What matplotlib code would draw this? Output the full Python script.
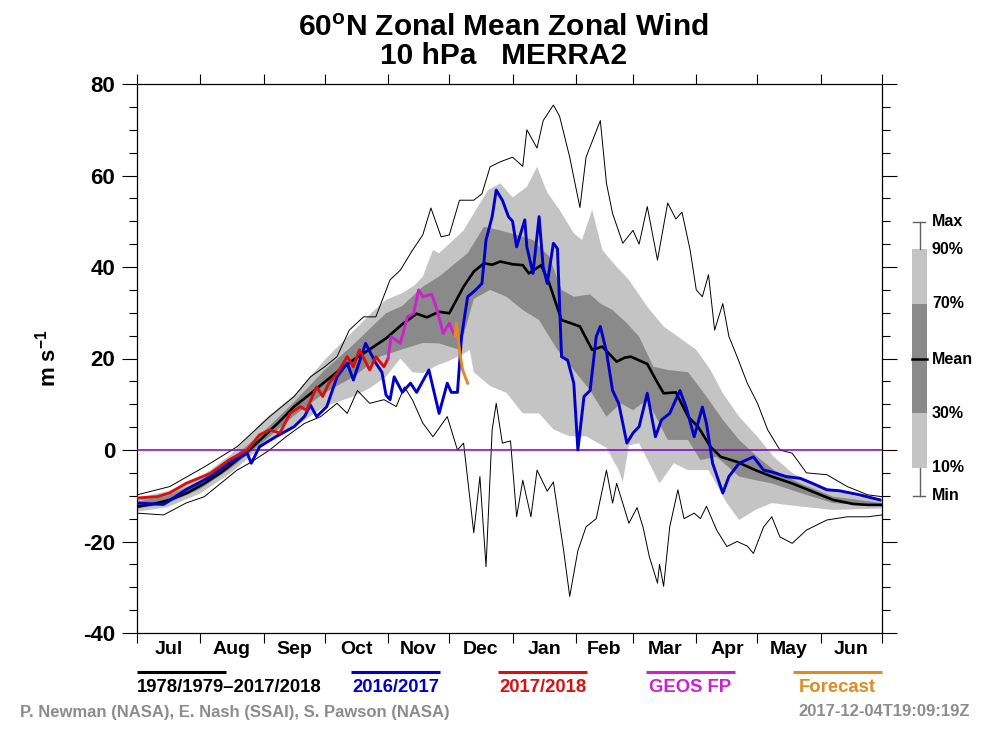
import numpy as np
import matplotlib
matplotlib.use("Agg")
import matplotlib.pyplot as plt
from matplotlib.patches import Rectangle

plt.rcParams['font.family'] = ['Liberation Sans', 'DejaVu Sans']
plt.rcParams['font.weight'] = 'bold'
plt.rcParams['axes.unicode_minus'] = False
plt.rcParams['mathtext.fontset'] = 'custom'
plt.rcParams['mathtext.bf'] = 'Liberation Sans:bold'
plt.rcParams['mathtext.rm'] = 'Liberation Sans:bold'
plt.rcParams['mathtext.default'] = 'bf'

# x axis = days since 1 Jul
month_names = ['Jul', 'Aug', 'Sep', 'Oct', 'Nov', 'Dec', 'Jan', 'Feb', 'Mar', 'Apr', 'May', 'Jun']
month_starts = [0, 31, 62, 92, 123, 153, 184, 215, 243, 274, 304, 335, 365]

# climatology 1978/1979-2017/2018
mean_day = [0, 8, 16, 25, 33, 41, 49, 55, 62, 70, 77, 85, 92, 99, 106, 114, 122, 130, 137, 142,
            148, 153, 160, 165, 170, 174, 178, 184, 189, 192, 198, 202, 208, 212, 217, 223, 228, 235, 239, 242,
            246, 250, 254, 258, 264, 270, 275, 281, 286, 294, 303, 311, 321, 331, 341, 351, 358, 365]
mean_val = [-12.4, -11.8, -10.9, -9.3, -7.3, -5.0, -2.2, 0.0, 2.9, 6.3, 9.5, 12.3, 14.9, 17.4, 19.7, 22.0, 24.4, 27.5, 29.8, 29.0,
            30.2, 29.9, 35.7, 39.0, 40.8, 40.5, 41.2, 40.6, 40.4, 38.6, 40.4, 36.4, 28.4, 27.8, 27.0, 21.9, 22.6, 19.3, 20.2, 20.4,
            19.6, 18.8, 15.5, 12.4, 12.6, 7.3, 5.0, 0.7, -1.5, -2.6, -4.4, -5.8, -7.3, -9.1, -10.9, -11.8, -12.0, -12.0]

p90_day = [0, 15, 31, 46, 62, 77, 92, 106, 115, 122, 130, 136, 140, 145, 148, 155, 160, 165, 172, 178,
           184, 191, 196, 201, 207, 214, 218, 223, 228, 235, 241, 250, 258, 264, 274, 281, 287, 295, 304, 312,
           321, 331, 341, 352, 365]
p90_val = [-10.5, -9.0, -6.0, -1.0, 6.5, 12.0, 19.7, 26.0, 30.0, 32.8, 34.3, 36.0, 37.9, 43.7, 43.0, 45.9, 48.0, 51.7, 56.8, 58.3,
           55.2, 57.5, 61.9, 56.3, 52.5, 47.4, 45.9, 52.5, 43.7, 40.0, 37.2, 31.3, 27.0, 25.1, 21.9, 17.5, 12.4, 7.3, 2.9, -1.5,
           -5.0, -7.3, -8.7, -10.0, -10.9]

p10_day = [0, 15, 31, 46, 62, 77, 92, 106, 114, 122, 129, 135, 140, 147, 153, 160, 163, 165, 173, 181,
           189, 197, 204, 212, 220, 230, 236, 238, 241, 246, 256, 263, 270, 280, 289, 295, 303, 311, 324, 341,
           365]
p10_val = [-13.5, -12.5, -9.5, -5.0, 1.0, 5.0, 9.5, 11.7, 13.5, 16.0, 20.0, 17.0, 16.8, 18.5, 19.5, 21.0, 21.9, 17.0, 14.0, 12.5,
           8.0, 8.0, 4.5, 3.0, 3.0, 0.5, -4.4, -7.0, 1.0, 1.5, -7.3, -2.9, -4.4, -4.4, -11.6, -15.3, -13.1, -11.6, -12.3, -13.1,
           -12.8]

p70_day = [0, 15, 31, 46, 62, 77, 92, 106, 122, 130, 140, 148, 162, 170, 178, 186, 194, 202, 208, 214,
           222, 227, 233, 240, 246, 253, 260, 270, 279, 287, 295, 304, 312, 325, 341, 365]
p70_val = [-11.3, -10.0, -6.8, -2.0, 4.0, 10.5, 17.5, 23.0, 29.9, 31.5, 35.7, 37.9, 43.0, 48.8, 48.0, 47.0, 45.9, 42.3, 35.0, 33.5,
           34.0, 32.0, 30.6, 27.7, 24.8, 18.2, 17.5, 17.0, 11.7, 6.6, 2.2, -1.5, -4.4, -7.3, -10.2, -11.6]

p30_day = [0, 15, 31, 46, 62, 77, 92, 106, 119, 130, 140, 148, 158, 165, 173, 181, 189, 197, 206, 214,
           222, 230, 237, 243, 250, 260, 270, 276, 284, 295, 303, 311, 325, 341, 365]
p30_val = [-12.8, -11.7, -8.5, -4.0, 1.8, 7.5, 12.5, 16.0, 20.4, 22.0, 23.4, 23.3, 21.9, 33.0, 35.0, 33.5, 30.6, 28.4, 21.9, 17.5,
           13.0, 7.3, 10.2, 8.7, 11.0, 2.2, 2.2, -2.2, -1.5, -5.8, -6.6, -7.3, -9.4, -11.6, -12.3]

max_day = [0, 16, 33, 49, 65, 77, 85, 92, 98, 104, 111, 117, 124, 129, 135, 140, 144, 149, 153, 158,
           165, 169, 173, 178, 184, 189, 191, 196, 199, 204, 207, 212, 217, 220, 227, 230, 233, 238, 243, 246,
           250, 255, 260, 264, 267, 271, 274, 277, 280, 283, 287, 290, 294, 299, 304, 309, 315, 321, 328, 338,
           348, 358, 365]
max_val = [-9.8, -8.0, -3.7, 0.7, 7.3, 11.7, 16.0, 18.2, 20.4, 26.2, 29.1, 29.1, 37.2, 39.3, 43.7, 47.0, 52.9, 46.6, 47.0, 54.6,
           54.6, 56.0, 61.9, 63.0, 64.0, 62.0, 70.0, 66.0, 72.0, 75.4, 73.0, 64.0, 53.0, 64.0, 72.0, 58.3, 51.7, 45.2, 48.0, 45.0,
           53.2, 41.5, 54.0, 50.5, 52.0, 43.7, 35.0, 33.5, 38.3, 26.2, 32.0, 24.8, 20.4, 14.6, 10.2, 4.4, 0.0, -0.7, -5.0, -5.4,
           -8.0, -9.8, -10.2]

min_day = [0, 13, 24, 33, 41, 49, 55, 65, 73, 82, 90, 98, 103, 108, 114, 121, 127, 131, 135, 140,
           145, 152, 157, 160, 165, 168, 171, 174, 176, 179, 183, 186, 189, 193, 196, 201, 204, 209, 212, 216,
           220, 225, 230, 233, 235, 241, 245, 248, 251, 255, 256, 258, 261, 265, 268, 273, 276, 279, 284, 289,
           294, 299, 302, 307, 311, 315, 321, 328, 338, 348, 358, 365]
min_val = [-13.8, -14.2, -11.6, -10.2, -7.3, -4.4, -2.9, 0.0, 2.9, 5.8, 7.3, 10.2, 8.0, 13.0, 10.2, 11.0, 9.5, 13.8, 10.9, 5.9,
           2.9, 7.3, 0.0, 1.5, -18.1, -5.8, -25.5, 4.4, 10.2, 1.5, 2.0, -14.6, -6.6, -14.6, -4.4, -9.0, -7.0, -21.9, -32.0, -22.0,
           -16.8, -15.0, -4.4, -11.6, -7.3, -16.0, -12.6, -17.0, -23.3, -29.1, -25.0, -29.8, -16.8, -8.7, -15.0, -13.8, -15.0, -12.3, -17.5, -21.1,
           -20.0, -21.0, -22.6, -16.8, -14.6, -19.0, -20.4, -17.5, -15.3, -14.6, -14.6, -14.2]

# 2016/2017
blue_day = [0, 13, 24, 36, 45, 54, 56, 60, 68, 77, 82, 85, 88, 93, 98, 103, 106, 112, 117, 120,
            122, 124, 126, 130, 134, 137, 143, 148, 152, 154, 157, 159, 162, 166, 169, 171, 174, 176, 179, 182,
            184, 186, 187, 190, 191, 194, 197, 199, 201, 204, 206, 208, 211, 214, 216, 219, 222, 225, 227, 230,
            233, 236, 240, 243, 246, 250, 254, 257, 261, 266, 269, 273, 277, 279, 282, 287, 290, 295, 302, 307,
            311, 318, 325, 331, 338, 344, 354, 364]
blue_val = [-11.6, -11.9, -8.7, -5.8, -2.9, -0.7, -2.9, 0.7, 2.9, 5.1, 7.3, 9.8, 7.3, 9.5, 16.0, 19.0, 15.3, 23.3, 19.0, 17.0,
            12.0, 11.0, 16.0, 12.6, 14.6, 12.6, 17.5, 8.0, 14.6, 12.6, 12.6, 24.8, 33.5, 35.0, 36.4, 45.9, 51.0, 56.8, 54.6, 51.0,
            50.0, 44.4, 45.9, 50.3, 44.4, 38.6, 51.0, 40.0, 36.4, 45.2, 44.0, 20.4, 19.6, 14.6, 0.0, 11.7, 13.0, 24.8, 27.0, 21.5,
            13.0, 10.2, 1.5, 3.7, 5.1, 12.4, 2.9, 6.6, 8.0, 13.0, 9.4, 2.9, 9.4, 5.8, -2.9, -9.4, -5.8, -2.9, -1.5, -4.4,
            -4.8, -5.8, -6.2, -7.3, -8.7, -8.9, -9.8, -10.9]

# 2017/2018 (MERRA2), then GEOS FP and forecast
red_day = [0, 10, 16, 24, 36, 45, 54, 60, 65, 70, 75, 80, 83, 88, 91, 94, 98, 103, 106, 109, 114, 117, 121, 123]
red_val = [-10.5, -10.2, -9.4, -7.3, -5.1, -2.2, 0.0, 3.3, 4.4, 3.7, 8.0, 9.5, 8.7, 13.8, 11.7, 14.6, 16.7, 20.4, 18.2, 21.9,
           17.5, 20.4, 18.2, 20.0]
geos_day = [123, 124.5, 127, 129, 132.5, 135.5, 138, 140, 142.5, 144.5, 147, 150, 153, 155.8]
geos_val = [20.0, 24.8, 24.0, 23.3, 29.1, 29.8, 35.0, 33.5, 33.8, 34.0, 30.6, 25.5, 27.7, 24.8]
fc_day = [155.8, 156.5, 158, 159.5, 162]
fc_val = [24.8, 27.7, 21.9, 17.5, 14.6]

LIGHT = '#c4c4c4'
DARK = '#8a8a8a'
BLUE = '#0000c8'
RED = '#d81010'
MAGENTA = '#cc22cc'
ORANGE = '#e08a20'
PURPLE = '#8000c0'
GRAY_TXT = '#8c8c8c'

W, H = 1007, 740
fig = plt.figure(figsize=(W / 100, H / 100), dpi=100)
ax = fig.add_axes([137 / W, 1 - 633 / H, (882 - 137) / W, (633 - 84) / H])

# shaded percentile bands
ax.fill(np.concatenate([p90_day, p10_day[::-1]]), np.concatenate([p90_val, p10_val[::-1]]),
        color=LIGHT, lw=0, zorder=1)
ax.fill(np.concatenate([p70_day, p30_day[::-1]]), np.concatenate([p70_val, p30_val[::-1]]),
        color=DARK, lw=0, zorder=2)
ax.plot(max_day, max_val, color='black', lw=0.7, zorder=3)
ax.plot(min_day, min_val, color='black', lw=0.7, zorder=3)
ax.axhline(0, color=PURPLE, lw=1.1, zorder=4)
ax.plot(mean_day, mean_val, color='black', lw=1.9, zorder=5)
ax.plot(blue_day, blue_val, color=BLUE, lw=2.1, zorder=6)
ax.plot(red_day, red_val, color=RED, lw=2.1, zorder=7)
ax.plot(geos_day, geos_val, color=MAGENTA, lw=2.1, zorder=7)
ax.plot(fc_day, fc_val, color=ORANGE, lw=2.1, zorder=7)

ax.set_xlim(0, 365)
ax.set_ylim(-40, 80)
ax.set_xticks(month_starts)
ax.set_xticklabels([])
mids = [(a + b) / 2 for a, b in zip(month_starts[:-1], month_starts[1:])]
ax.set_xticks(mids, minor=True)
ax.set_xticklabels(month_names, minor=True, fontsize=14, fontweight='bold')
ax.tick_params(axis='x', which='major', direction='out', length=7.5, width=0.8, top=True, bottom=True)
ax.tick_params(axis='x', which='minor', length=0, pad=6, top=False)
ax.set_yticks(np.arange(-40, 81, 20))
ax.set_yticks(np.arange(-40, 81, 5), minor=True)
ax.tick_params(axis='y', which='major', direction='out', length=10.8, width=0.8, labelsize=16,
               pad=5, left=True, right=True)
ax.tick_params(axis='y', which='minor', direction='out', length=5.5, width=0.8, left=True, right=True)
for lab in ax.get_yticklabels():
    lab.set_fontweight('bold')
for s in ax.spines.values():
    s.set_linewidth(0.9)

# titles and labels
fig.text(0.5, 1 - 28 / H, '60$^{o}$N Zonal Mean Zonal Wind', ha='center', va='center', fontsize=21.5)
fig.text(0.5, 1 - 56 / H, '10 hPa   MERRA2', ha='center', va='center', fontsize=21.5)
fig.text(48 / W, 1 - 358 / H, 'm s$^{-1}$', rotation=90, ha='center', va='center', fontsize=16)

# overlay in pixel coords for legends
ov = fig.add_axes([0, 0, 1, 1], facecolor='none')
ov.set_xlim(0, W)
ov.set_ylim(H, 0)
ov.axis('off')

# right-hand key
bx0, bx1 = 912, 927
bxc = (bx0 + bx1) / 2
key_y = {'Max': 222, '90%': 249, '70%': 304, 'Mean': 359, '30%': 413, '10%': 468, 'Min': 496}
ov.add_patch(Rectangle((bx0, key_y['90%']), bx1 - bx0, key_y['70%'] - key_y['90%'], color=LIGHT, lw=0))
ov.add_patch(Rectangle((bx0, key_y['70%']), bx1 - bx0, key_y['30%'] - key_y['70%'], color=DARK, lw=0))
ov.add_patch(Rectangle((bx0, key_y['30%']), bx1 - bx0, key_y['10%'] - key_y['30%'], color=LIGHT, lw=0))
ov.plot([bxc, bxc], [key_y['Max'], key_y['90%']], color='#606060', lw=1)
ov.plot([bxc, bxc], [key_y['10%'], key_y['Min']], color='#606060', lw=1)
ov.plot([bx0 + 1, bx1 - 2], [key_y['Max']] * 2, color='#606060', lw=1)
ov.plot([bx0 + 1, bx1 - 2], [key_y['Min']] * 2, color='#606060', lw=1)
ov.plot([bx0, bx1], [key_y['Mean']] * 2, color='black', lw=1.8)
for lab, yy in key_y.items():
    ov.text(932, yy, lab, ha='left', va='center', fontsize=11.5)

# bottom legend
legend_items = [('1978/1979\u20132017/2018', 'black', 137, 226, 'left'),
                ('2016/2017', BLUE, 351, 440, 'center'),
                ('2017/2018', RED, 498, 587, 'center'),
                ('GEOS FP', MAGENTA, 646, 735, 'center'),
                ('Forecast', ORANGE, 793, 882, 'center')]
for lab, col, xa, xb, ha in legend_items:
    ov.plot([xa, xb], [672, 672], color=col, lw=2.2, solid_capstyle='butt')
    xt = xa if ha == 'left' else (xa + xb) / 2
    ov.text(xt, 688, lab, color=col, ha=ha, va='center', fontsize=13.3)

ov.text(20, 712, 'P. Newman (NASA), E. Nash (SSAI), S. Pawson (NASA)', color=GRAY_TXT,
        ha='left', va='center', fontsize=12)
ov.text(970, 712, '2017-12-04T19:09:19Z', color=GRAY_TXT, ha='right', va='center', fontsize=12)

fig.savefig('out.png', dpi=100)
